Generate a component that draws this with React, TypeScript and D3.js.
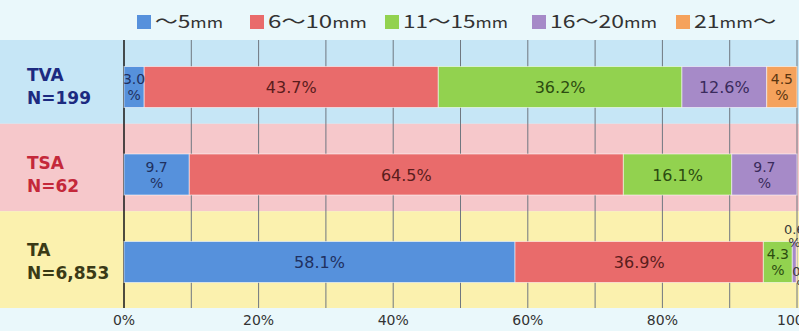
import React from "react";
import * as d3 from "d3";

const categories = ["TVA", "TSA", "TA"];
const categoryNs = ["N=199", "N=62", "N=6,853"];
const seriesNames = ["～5mm", "6～10mm", "11～15mm", "16～20mm", "21mm～"];
const seriesA = [3.0, 9.7, 58.1];
const seriesB = [43.7, 64.5, 36.9];
const seriesC = [36.2, 16.1, 4.3];
const seriesD = [12.6, 9.7, 0.6];
const seriesE = [4.5, 0, 0.1];
const axisTicks = [0, 20, 40, 60, 80, 100];

const W = 799;
const H = 331;
const plotLeft = 124;
const plotRight = 797;
const plotTop = 40;
const plotBottom = 308;
const barH = 41;
const bandShift = -7;

const barColors = ["#5691dc", "#e96b6b", "#92d24f", "#a68ac8", "#f5a25c"];
const barTextColors = ["#1f3060", "#5a1c1c", "#2c4c10", "#3a2b5c", "#5a3510"];
const bandColors = ["#c6e6f6", "#f6c8cb", "#fbf1ae"];
const catColors = ["#1c2a80", "#c4283a", "#3a3a16"];
const legendX = [137, 250, 385, 532, 676];
const legendTextW = [68, 99, 105, 107, 82];

const FONT = "'DejaVu Sans', Verdana, sans-serif";

export default function App() {
  const rows = categories.map((c, i) => ({
    cat: c,
    s0: seriesA[i],
    s1: seriesB[i],
    s2: seriesC[i],
    s3: seriesD[i],
    s4: seriesE[i],
  }));
  const keys = ["s0", "s1", "s2", "s3", "s4"];
  const stacked = d3.stack<any>().keys(keys)(rows);

  const x = d3.scaleLinear().domain([0, 100]).range([plotLeft, plotRight]);
  const y = d3.scaleBand<string>().domain(categories).range([43.25, 305.75]).padding(0);
  const cy = (c: string) => (y(c) as number) + y.bandwidth() / 2;

  const grid = d3.range(0, 101, 10);

  const legendLabel = (name: string) =>
    name.split(/(mm)/).filter((p) => p.length).map((p, k) =>
      p === "mm" ? (
        <tspan key={k} fontSize={14}>{p}</tspan>
      ) : (
        <tspan key={k}>{p}</tspan>
      )
    );

  return (
    <svg
      width={W}
      height={H}
      style={{ position: "absolute", left: 0, top: 0, background: "#eaf8fb" }}
    >
      <rect x={0} y={0} width={W} height={H} fill="#eaf8fb" />
      {/* bands */}
      {categories.map((c, i) => {
        const top = i === 0 ? plotTop : (y(c) as number) + bandShift;
        const bottom =
          i === categories.length - 1
            ? plotBottom
            : (y(categories[i + 1]) as number) + bandShift;
        return (
          <rect key={c} x={0} y={top} width={W} height={bottom - top} fill={bandColors[i]} />
        );
      })}
      {/* gridlines */}
      {grid.map((g) => (
        <line
          key={g}
          x1={x(g)}
          x2={x(g)}
          y1={plotTop}
          y2={plotBottom}
          stroke={g === 0 ? "#222" : "#6f7780"}
          strokeWidth={g === 0 ? 1.6 : 1}
        />
      ))}
      {/* bars */}
      {stacked.map((layer, si) =>
        layer.map((d: any, ci: number) => {
          const c = categories[ci];
          const x0 = x(d[0]);
          const x1 = x(d[1]);
          if (x1 - x0 <= 0) return null;
          return (
            <rect
              key={`${si}-${ci}`}
              x={x0}
              y={cy(c) - barH / 2}
              width={x1 - x0}
              height={barH}
              fill={barColors[si]}
              stroke="rgba(255,255,255,0.55)"
              strokeWidth={1}
            />
          );
        })
      )}
      {/* bar labels */}
      {stacked.map((layer, si) =>
        layer.map((d: any, ci: number) => {
          const c = categories[ci];
          const v = d[1] - d[0];
          if (v <= 0) return null;
          const xm = x((d[0] + d[1]) / 2);
          const w = x(d[1]) - x(d[0]);
          const txt = v.toFixed(1);
          const col = barTextColors[si];
          if (v < 1) {
            const above = si === 3;
            const yy = above ? cy(c) - 28 : cy(c) + 14;
            const xx = above ? xm : xm + 6;
            return (
              <text
                key={`l${si}-${ci}`}
                fontFamily={FONT}
                fontSize={13}
                fill="#3a3a3a"
                textAnchor="middle"
              >
                <tspan x={xx} y={yy}>{txt}</tspan>
                <tspan x={xx} y={yy + 13}>%</tspan>
              </text>
            );
          }
          if (w < 70) {
            return (
              <text
                key={`l${si}-${ci}`}
                fontFamily={FONT}
                fontSize={14}
                fill={col}
                textAnchor="middle"
              >
                <tspan x={xm} y={cy(c) - 3}>{txt}</tspan>
                <tspan x={xm} y={cy(c) + 13}>%</tspan>
              </text>
            );
          }
          return (
            <text
              key={`l${si}-${ci}`}
              x={xm}
              y={cy(c) + 6}
              fontFamily={FONT}
              fontSize={16}
              fill={col}
              textAnchor="middle"
            >
              {txt + "%"}
            </text>
          );
        })
      )}
      {/* category labels */}
      {categories.map((c, i) => (
        <text key={`c${c}`} fontFamily={FONT} fontWeight="bold" fontSize={17} fill={catColors[i]}>
          <tspan x={27} y={cy(c) - 6}>{c}</tspan>
          <tspan x={27} y={cy(c) + 17}>{categoryNs[i]}</tspan>
        </text>
      ))}
      {/* axis tick labels */}
      {axisTicks.map((t) => (
        <text
          key={`t${t}`}
          x={x(t)}
          y={325}
          fontFamily={FONT}
          fontSize={14}
          fill="#333"
          textAnchor="middle"
        >
          {t + "%"}
        </text>
      ))}
      {/* legend */}
      {seriesNames.map((n, i) => (
        <g key={`lg${i}`}>
          <rect x={legendX[i]} y={15} width={14} height={14} fill={barColors[i]} />
          <text
            x={legendX[i] + 18}
            y={28}
            fontFamily="'Noto Sans CJK JP', 'Noto Sans', sans-serif"
            fontSize={18}
            fill="#333"
            textLength={legendTextW[i]}
            lengthAdjust="spacingAndGlyphs"
          >
            {legendLabel(n)}
          </text>
        </g>
      ))}
    </svg>
  );
}
